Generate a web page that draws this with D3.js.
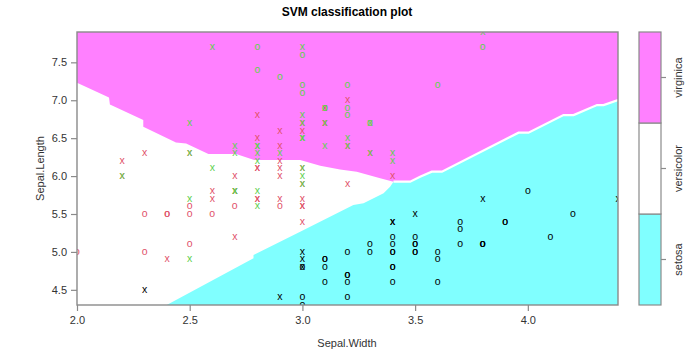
<!DOCTYPE html>
<html>
<head>
<meta charset="utf-8">
<script src="https://cdn.jsdelivr.net/npm/d3@7"></script>
<style>
  html, body { margin: 0; padding: 0; background: #fff; }
  svg { display: block; font-family: "Liberation Sans", Arial, sans-serif; }
</style>
</head>
<body>
<svg id="chart" width="694" height="355"></svg>
<script>
// ---------------- data ----------------
const xTicks = [2.0, 2.5, 3.0, 3.5, 4.0];
const yTicks = [4.5, 5.0, 5.5, 6.0, 6.5, 7.0, 7.5];
const classes = ["setosa", "versicolor", "virginica"];

// decision boundaries [Sepal.Width, Sepal.Length]
const virginicaVersicolorEdge = [
  [2.0, 7.231], [2.142, 7.036], [2.146, 6.944], [2.294, 6.740], [2.294, 6.651],
  [2.439, 6.443], [2.484, 6.430], [2.583, 6.291], [2.706, 6.291], [2.786, 6.212],
  [2.990, 6.212], [3.079, 6.135], [3.167, 6.087], [3.241, 6.058], [3.345, 5.971],
  [3.404, 5.926]
];
const virginicaSetosaEdge = [
  [3.404, 5.926], [3.478, 5.926], [3.522, 5.992], [3.574, 6.058], [3.619, 6.058],
  [3.959, 6.572], [4.003, 6.572], [4.158, 6.805], [4.203, 6.805], [4.307, 6.937],
  [4.336, 6.937], [4.4, 7.003]
];
const versicolorSetosaEdge = [
  [2.398, 4.3], [2.783, 4.916], [2.783, 4.959], [2.990, 5.266], [3.226, 5.619],
  [3.271, 5.641], [3.360, 5.773], [3.389, 5.860], [3.404, 5.926]
];

// points [Sepal.Width, Sepal.Length, symbol]
const setosaPts = [
  [3.5,5.1,"o"],[3.0,4.9,"x"],[3.2,4.7,"o"],[3.1,4.6,"o"],[3.6,5.0,"o"],[3.9,5.4,"o"],
  [3.4,4.6,"o"],[3.4,5.0,"o"],[2.9,4.4,"x"],[3.1,4.9,"o"],[3.7,5.4,"o"],[3.4,4.8,"o"],
  [3.0,4.8,"o"],[3.0,4.3,"o"],[4.0,5.8,"o"],[4.4,5.7,"x"],[3.9,5.4,"o"],[3.5,5.1,"o"],
  [3.8,5.7,"x"],[3.8,5.1,"o"],[3.4,5.4,"x"],[3.7,5.1,"o"],[3.6,4.6,"o"],[3.3,5.1,"o"],
  [3.4,4.8,"o"],[3.0,5.0,"x"],[3.4,5.0,"o"],[3.5,5.2,"o"],[3.4,5.2,"o"],[3.2,4.7,"o"],
  [3.1,4.8,"o"],[3.4,5.4,"x"],[4.1,5.2,"o"],[4.2,5.5,"o"],[3.1,4.9,"o"],[3.2,5.0,"o"],
  [3.5,5.5,"x"],[3.6,4.9,"o"],[3.0,4.4,"o"],[3.4,5.1,"o"],[3.5,5.0,"o"],[2.3,4.5,"x"],
  [3.2,4.4,"o"],[3.5,5.0,"o"],[3.8,5.1,"o"],[3.0,4.8,"x"],[3.8,5.1,"o"],[3.2,4.6,"o"],
  [3.7,5.3,"o"],[3.3,5.0,"o"]
];
const versicolorPts = [
  [3.2,7.0,"x"],[3.2,6.4,"x"],[3.1,6.9,"x"],[2.3,5.5,"o"],[2.8,6.5,"x"],[2.8,5.7,"x"],
  [3.3,6.3,"x"],[2.4,4.9,"x"],[2.9,6.6,"x"],[2.7,5.2,"x"],[2.0,5.0,"o"],[3.0,5.9,"x"],
  [2.2,6.0,"x"],[2.9,6.1,"x"],[2.9,5.6,"o"],[3.1,6.7,"x"],[3.0,5.6,"x"],[2.7,5.8,"x"],
  [2.2,6.2,"x"],[2.5,5.6,"o"],[3.2,5.9,"x"],[2.8,6.1,"x"],[2.5,6.3,"x"],[2.8,6.1,"x"],
  [2.9,6.4,"x"],[3.0,6.6,"x"],[2.8,6.8,"x"],[3.0,6.7,"x"],[2.9,6.0,"x"],[2.6,5.7,"x"],
  [2.4,5.5,"o"],[2.4,5.5,"o"],[2.7,5.8,"x"],[2.7,6.0,"x"],[3.0,5.4,"x"],[3.4,6.0,"x"],
  [3.1,6.7,"x"],[2.3,6.3,"x"],[3.0,5.6,"x"],[2.5,5.5,"o"],[2.6,5.5,"o"],[3.0,6.1,"x"],
  [2.6,5.8,"x"],[2.3,5.0,"o"],[2.7,5.6,"o"],[3.0,5.7,"x"],[2.9,5.7,"x"],[2.9,6.2,"x"],
  [2.5,5.1,"o"],[2.8,5.7,"x"]
];
const virginicaPts = [
  [3.3,6.3,"x"],[2.7,5.8,"x"],[3.0,7.1,"o"],[2.9,6.3,"x"],[3.0,6.5,"x"],[3.0,7.6,"o"],
  [2.5,4.9,"x"],[2.9,7.3,"o"],[2.5,6.7,"x"],[3.6,7.2,"o"],[3.2,6.5,"x"],[2.7,6.4,"x"],
  [3.0,6.8,"x"],[2.5,5.7,"x"],[2.8,5.8,"x"],[3.2,6.4,"x"],[3.0,6.5,"x"],[3.8,7.7,"o"],
  [2.6,7.7,"x"],[2.2,6.0,"x"],[3.2,6.9,"o"],[2.8,5.6,"x"],[2.8,7.7,"o"],[2.7,6.3,"x"],
  [3.3,6.7,"o"],[3.2,7.2,"o"],[2.8,6.2,"x"],[3.0,6.1,"x"],[2.8,6.4,"x"],[3.0,7.2,"o"],
  [2.8,7.4,"o"],[3.8,7.9,"x"],[2.8,6.4,"x"],[2.8,6.3,"x"],[2.6,6.1,"x"],[3.0,7.7,"x"],
  [3.4,6.3,"x"],[3.1,6.4,"x"],[3.0,6.0,"x"],[3.1,6.9,"o"],[3.1,6.7,"x"],[3.1,6.9,"o"],
  [2.7,5.8,"x"],[3.2,6.8,"o"],[3.3,6.7,"x"],[3.0,6.7,"x"],[2.5,6.3,"x"],[3.0,6.5,"x"],
  [3.4,6.2,"x"],[3.0,5.9,"x"]
];

// ---------------- drawing ----------------
const regionFill = { setosa: "#80FFFF", versicolor: "#FFFFFF", virginica: "#FF80FF" };
const symbolCol = { setosa: "#000000", versicolor: "#DF536B", virginica: "#61D04F" };
const axisCol = "#8a8a8a";
const textCol = "#333";

const svg = d3.select("#chart");
const plot = { left: 77, right: 618, top: 32, bottom: 305 };
const x = d3.scaleLinear().domain([2.0, 4.4]).range([plot.left, plot.right]);
const y = d3.scaleLinear().domain([4.3, 7.9]).range([plot.bottom, plot.top]);

svg.append("defs").append("clipPath").attr("id", "clip")
  .append("rect").attr("x", plot.left).attr("y", plot.top)
  .attr("width", plot.right - plot.left).attr("height", plot.bottom - plot.top);

const g = svg.append("g").attr("clip-path", "url(#clip)");
const line = d3.line().x(d => x(d[0])).y(d => y(d[1]));

// versicolor background
g.append("rect").attr("x", plot.left).attr("y", plot.top)
  .attr("width", plot.right - plot.left).attr("height", plot.bottom - plot.top)
  .attr("fill", regionFill.versicolor);

// virginica region
const magentaPoly = [[2.0, 7.9], [4.4, 7.9]]
  .concat(virginicaSetosaEdge.slice().reverse())
  .concat(virginicaVersicolorEdge.slice().reverse());
g.append("path").attr("d", line(magentaPoly) + "Z").attr("fill", regionFill.virginica);

// setosa region
const cyanPoly = versicolorSetosaEdge.concat(virginicaSetosaEdge.slice(1)).concat([[4.4, 4.3]]);
g.append("path").attr("d", line(cyanPoly) + "Z").attr("fill", regionFill.setosa);

// white contour line between virginica and setosa
g.append("path").attr("d", line(virginicaSetosaEdge)).attr("fill", "none")
  .attr("stroke", "#fff").attr("stroke-width", 2.2);

// points
const drawPts = (pts, cls) => {
  g.selectAll(null).data(pts).enter().append("text")
    .attr("x", d => x(d[0])).attr("y", d => y(d[1]))
    .attr("dy", "0.28em")
    .attr("text-anchor", "middle")
    .attr("font-size", 10.5)
    .attr("fill", symbolCol[cls])
    .text(d => d[2]);
};
drawPts(setosaPts, "setosa");
drawPts(versicolorPts, "versicolor");
drawPts(virginicaPts, "virginica");

// box
svg.append("rect").attr("x", plot.left).attr("y", plot.top)
  .attr("width", plot.right - plot.left).attr("height", plot.bottom - plot.top)
  .attr("fill", "none").attr("stroke", axisCol).attr("stroke-width", 1.4);

// axes
const xAxis = d3.axisBottom(x).tickValues(xTicks).tickFormat(d3.format(".1f")).tickSize(6).tickPadding(5);
const yAxis = d3.axisLeft(y).tickValues(yTicks).tickFormat(d3.format(".1f")).tickSize(6).tickPadding(4);
const gx = svg.append("g").attr("transform", `translate(0,${plot.bottom})`).call(xAxis);
const gy = svg.append("g").attr("transform", `translate(${plot.left},0)`).call(yAxis);
[gx, gy].forEach(a => {
  a.select(".domain").remove();
  a.selectAll("line").attr("stroke", axisCol).attr("stroke-width", 1.2);
  a.selectAll("text").attr("fill", textCol).attr("font-size", 11)
    .attr("font-family", "'Liberation Sans', Arial, sans-serif");
});

// titles
svg.append("text").attr("x", 347).attr("y", 16).attr("text-anchor", "middle")
  .attr("font-size", 12).attr("font-weight", "bold").attr("fill", "#000")
  .text("SVM classification plot");
svg.append("text").attr("x", 347).attr("y", 347).attr("text-anchor", "middle")
  .attr("font-size", 11).attr("fill", textCol).text("Sepal.Width");
svg.append("text").attr("transform", `translate(44,${(plot.top + plot.bottom) / 2}) rotate(-90)`)
  .attr("text-anchor", "middle").attr("font-size", 11).attr("fill", textCol).text("Sepal.Length");

// legend
const leg = { left: 639, right: 661 };
const ly = d3.scaleBand().domain(classes.slice().reverse()).range([plot.top, plot.bottom]).padding(0);
classes.forEach(c => {
  svg.append("rect").attr("x", leg.left).attr("y", ly(c))
    .attr("width", leg.right - leg.left).attr("height", ly.bandwidth())
    .attr("fill", regionFill[c]).attr("stroke", axisCol).attr("stroke-width", 1.2);
});
const lAxis = d3.axisRight(ly).tickSize(5).tickPadding(4);
const gl = svg.append("g").attr("transform", `translate(${leg.right},0)`).call(lAxis);
gl.select(".domain").remove();
gl.selectAll("line").attr("stroke", axisCol).attr("stroke-width", 1.2);
gl.selectAll("text").attr("fill", textCol).attr("font-size", 11)
  .attr("font-family", "'Liberation Sans', Arial, sans-serif")
  .attr("text-anchor", "middle").attr("dy", null)
  .attr("transform", "translate(17,0) rotate(-90)").attr("x", 0).attr("y", 0)
  .attr("dominant-baseline", "central");
</script>
</body>
</html>
